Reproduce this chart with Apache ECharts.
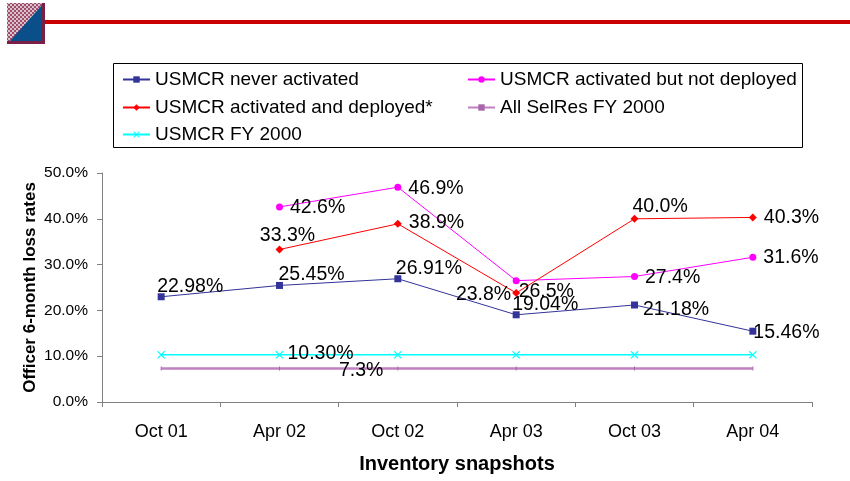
<!DOCTYPE html>
<html>
<head>
<meta charset="utf-8">
<script src="https://cdn.jsdelivr.net/npm/echarts@6/dist/echarts.min.js"></script>
<style>
  html, body { margin: 0; padding: 0; background: #fff; }
  #chart { width: 850px; height: 481px; }
</style>
</head>
<body>
<div id="chart"></div>
<script>
// 数据
const categories = ['Oct 01', 'Apr 02', 'Oct 02', 'Apr 03', 'Oct 03', 'Apr 04'];
const neverActivated = [22.98, 25.45, 26.91, 19.04, 21.18, 15.46];
const activatedNotDeployed = [null, 42.6, 46.9, 26.5, 27.4, 31.6];
const activatedDeployed = [null, 33.3, 38.9, 23.8, 40.0, 40.3];
const selResFY2000 = [7.3, 7.3, 7.3, 7.3, 7.3, 7.3];
const usmcrFY2000 = [10.3, 10.3, 10.3, 10.3, 10.3, 10.3];
const yMin = 0, yMax = 50, yStep = 10;

const FONT = '"Liberation Sans", Arial, sans-serif';
const LABEL_SIZE = 19.5;

// 标签位置
const topLeft = (ox, oy) => ({ show: true, position: 'top', align: 'left', distance: 0, offset: [ox, oy] });
const right = (ox, oy) => ({ show: true, position: 'right', distance: 5, offset: [ox, oy] });
const hidden = { show: false };

const neverLabels = [topLeft(-4, 3), topLeft(-1, 3), topLeft(-2, 3), topLeft(-4, 3), right(0, 5), right(-8, 1)];
const notDeployedLabels = [hidden, right(2, 1), right(2, 1), right(-6, 11), right(2, 1), right(2, 0)];
const deployedLabels = [hidden, { show: true, position: 'top', distance: 0, offset: [8, 0] }, right(2, -1),
  { show: true, position: 'left', distance: 5, offset: [4, 2] }, topLeft(-2, 2), right(2, 0)];
const selResLabels = [hidden, hidden, { show: true, position: 'left', distance: 14, offset: [0, 2] }, hidden, hidden, hidden];
const usmcrLabels = [hidden, right(-1, -1), hidden, hidden, hidden, hidden];

const buildData = (values, labels) => values.map((v, i) =>
  v == null ? '-' : { value: v, label: labels[i] });

// 左上角图标的纹理
const patCanvas = document.createElement('canvas');
patCanvas.width = 4; patCanvas.height = 4;
const pctx = patCanvas.getContext('2d');
pctx.fillStyle = '#d9c3cb'; pctx.fillRect(0, 0, 4, 4);
pctx.fillStyle = '#a04a6c'; pctx.fillRect(0, 0, 2, 2); pctx.fillRect(2, 2, 2, 2);

const xMark = 'path://M0,1L1,0L5,4L9,0L10,1L6,5L10,9L9,10L5,6L1,10L0,9L4,5Z';

const chart = echarts.init(document.getElementById('chart'), null, { renderer: 'canvas' });

const legendItem = (name, left, top) => ({
  data: [name], left, top,
  itemWidth: 27, itemHeight: 8, itemGap: 0,
  textStyle: { fontSize: 19, color: '#000', fontFamily: FONT }
});

const option = {
  backgroundColor: '#fff',
  animation: false,
  textStyle: { fontFamily: FONT },
  graphic: [
    { type: 'rect', shape: { x: 45, y: 20, width: 805, height: 4 }, style: { fill: '#cc0000' } },
    { type: 'rect', shape: { x: 7, y: 3, width: 38, height: 41 }, style: { fill: '#7a1f45' } },
    { type: 'rect', shape: { x: 7, y: 3, width: 35, height: 38 }, style: { fill: { image: patCanvas, repeat: 'repeat' } } },
    { type: 'polygon', shape: { points: [[42, 5], [42, 41], [10, 41]] }, style: { fill: '#0b4f8a' } },
    { type: 'rect', shape: { x: 113.5, y: 63.5, width: 689, height: 84 }, style: { fill: 'none', stroke: '#000', lineWidth: 1 } }
  ],
  legend: [
    legendItem('USMCR never activated', 117, 65),
    legendItem('USMCR activated but not deployed', 462, 65),
    legendItem('USMCR activated and deployed*', 117, 93),
    legendItem('All SelRes FY 2000', 462, 93),
    legendItem('USMCR FY 2000', 117, 120)
  ],
  grid: { left: 102, right: 38, top: 173, bottom: 79, outerBoundsMode: 'none' },
  xAxis: {
    type: 'category',
    data: categories,
    boundaryGap: true,
    axisLine: { lineStyle: { color: '#808080', width: 1 } },
    axisTick: { show: true, length: 5, lineStyle: { color: '#808080' } },
    axisLabel: { fontSize: 18, color: '#000', margin: 21 },
    name: 'Inventory snapshots',
    nameLocation: 'middle',
    nameGap: 52,
    nameMoveOverlap: false,
    nameTextStyle: { fontSize: 20, fontWeight: 'bold', color: '#000' }
  },
  yAxis: {
    type: 'value',
    min: yMin, max: yMax, interval: yStep,
    axisLine: { show: true, lineStyle: { color: '#808080', width: 1 } },
    axisTick: { show: true, length: 5, lineStyle: { color: '#808080' } },
    splitLine: { show: false },
    axisLabel: { fontSize: 15.5, color: '#000', margin: 14, formatter: (v) => v.toFixed(1) + '%' },
    name: 'Officer 6-month loss rates',
    nameLocation: 'middle',
    nameGap: 63,
    nameMoveOverlap: false,
    nameTextStyle: { fontSize: 17, fontWeight: 'bold', color: '#000' }
  },
  series: [
    {
      name: 'USMCR never activated', type: 'line',
      data: buildData(neverActivated, neverLabels),
      symbol: 'rect', symbolSize: 7,
      itemStyle: { color: '#333399' }, lineStyle: { color: '#333399', width: 1 },
      label: { fontSize: LABEL_SIZE, color: '#000', formatter: (p) => p.value.toFixed(2) + '%' }
    },
    {
      name: 'USMCR activated but not deployed', type: 'line',
      data: buildData(activatedNotDeployed, notDeployedLabels),
      symbol: 'circle', symbolSize: 7,
      itemStyle: { color: '#ff00ff' }, lineStyle: { color: '#ff00ff', width: 1 },
      label: { fontSize: LABEL_SIZE, color: '#000', formatter: (p) => p.value.toFixed(1) + '%' }
    },
    {
      name: 'USMCR activated and deployed*', type: 'line',
      data: buildData(activatedDeployed, deployedLabels),
      symbol: 'diamond', symbolSize: 8,
      itemStyle: { color: '#ff0000' }, lineStyle: { color: '#ff0000', width: 1 },
      label: { fontSize: LABEL_SIZE, color: '#000', formatter: (p) => p.value.toFixed(1) + '%' }
    },
    {
      name: 'All SelRes FY 2000', type: 'line',
      data: buildData(selResFY2000, selResLabels),
      symbol: 'rect', symbolSize: [1, 4],
      itemStyle: { color: '#a866a8' }, lineStyle: { color: '#c080c0', width: 2.5 },
      label: { fontSize: LABEL_SIZE, color: '#000', formatter: (p) => p.value.toFixed(1) + '%' }
    },
    {
      name: 'USMCR FY 2000', type: 'line',
      data: buildData(usmcrFY2000, usmcrLabels),
      symbol: xMark, symbolSize: 8,
      itemStyle: { color: '#00ffff' }, lineStyle: { color: '#00ffff', width: 1.5 },
      label: { fontSize: LABEL_SIZE, color: '#000', formatter: (p) => p.value.toFixed(2) + '%' }
    }
  ]
};

chart.setOption(option);
</script>
</body>
</html>
